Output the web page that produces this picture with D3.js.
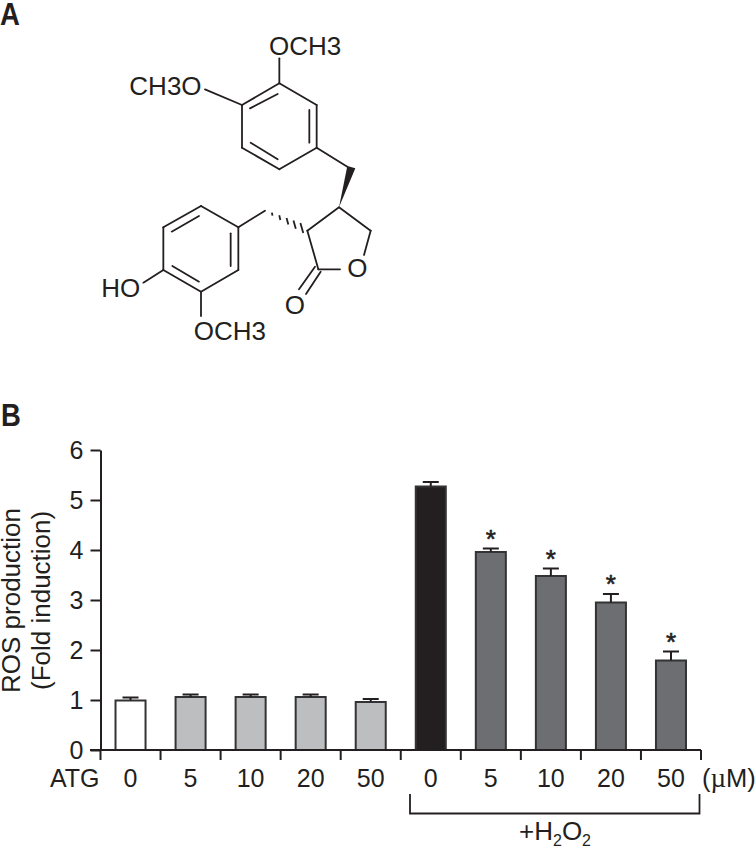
<!DOCTYPE html>
<html>
<head>
<meta charset="utf-8">
<script src="https://cdnjs.cloudflare.com/ajax/libs/d3/7.8.5/d3.min.js"></script>
<style>
  html, body { margin: 0; padding: 0; background: #fff; }
  text { font-family: "Liberation Sans", Arial, sans-serif; fill: #231f20; }
  .panel { font-weight: bold; font-size: 32px; }
</style>
</head>
<body>
<div id="chart"></div>
<script>
// Bar chart values (panel B)
const doses = ["0", "5", "10", "20", "50", "0", "5", "10", "20", "50"];
const ros = [0.99, 1.06, 1.06, 1.06, 0.96, 5.27, 3.96, 3.48, 2.95, 1.79];
const errTop = [1.05, 1.11, 1.11, 1.11, 1.02, 5.36, 4.03, 3.63, 3.12, 1.97];
const barFill = ["#ffffff", "#bcbec0", "#bcbec0", "#bcbec0", "#bcbec0", "#231f20", "#6d6e71", "#6d6e71", "#6d6e71", "#6d6e71"];
const starred = [false, false, false, false, false, false, true, true, true, true];
const yTicks = [0, 1, 2, 3, 4, 5, 6];

// Structure drawing (panel A), in zoomed-reference units, 3 units = 1px
const bonds = [
  [838, 250, 950, 315], [950, 315, 950, 443], [950, 443, 838, 508],
  [838, 508, 726, 443], [726, 443, 726, 315], [726, 315, 838, 250],
  [833, 282, 750, 325], [928, 330, 928, 428], [833, 478, 752, 428],
  [838, 250, 838, 175], [726, 315, 615, 268], [950, 443, 1042, 500],
  [1017, 622, 1112, 692], [1112, 692, 1092, 765], [1020, 808, 955, 808],
  [955, 808, 922, 692], [922, 692, 1017, 622],
  [945, 800, 897, 868], [962, 815, 918, 882],
  [795, 632, 715, 682],
  [603, 618, 715, 682], [715, 682, 715, 810], [715, 810, 603, 875],
  [603, 875, 490, 810], [490, 810, 490, 682], [490, 682, 603, 618],
  [597, 648, 515, 695], [692, 700, 692, 798], [597, 845, 517, 798],
  [490, 810, 430, 848], [603, 875, 603, 948]
];
const wedge = [[1017, 622], [1042, 498], [1066, 505]];
const hashTicks = [0.13, 0.3, 0.47, 0.65, 0.83];
const hashStart = [922, 692];
const hashEnd = [795, 632];
const atomLabels = [
  { t: "OCH3", x: 807, y: 164 }, { t: "CH3O", x: 388, y: 286 },
  { t: "HO", x: 304, y: 892 }, { t: "OCH3", x: 581, y: 1021 },
  { t: "O", x: 1042, y: 830 }, { t: "O", x: 854, y: 942 }
];

const width = 755, height = 849;
const svg = d3.select("#chart").append("svg")
  .attr("width", width)
  .attr("height", height)
  .style("display", "block");

// Panel letters, squeezed since the reference uses a condensed bold
svg.append("text").attr("class", "panel").attr("transform", "translate(0,25) scale(0.86,1)").text("A");
svg.append("text").attr("class", "panel").attr("transform", "translate(1,426) scale(0.86,1)").text("B");

// Panel A: molecule
const mx = d3.scaleLinear().domain([0, 1200]).range([0, 400]);
const my = d3.scaleLinear().domain([0, 1200]).range([0, 400]);
const mol = svg.append("g").attr("stroke", "#231f20").attr("stroke-width", 1.8).attr("stroke-linecap", "round");

mol.selectAll("line.bond").data(bonds).enter().append("line")
  .attr("class", "bond")
  .attr("x1", d => mx(d[0])).attr("y1", d => my(d[1]))
  .attr("x2", d => mx(d[2])).attr("y2", d => my(d[3]));

mol.append("path")
  .attr("d", d3.line().x(d => mx(d[0])).y(d => my(d[1]))(wedge) + "Z")
  .attr("fill", "#231f20").attr("stroke", "none");

// hashed bond, slanted strokes getting longer toward the ring
mol.selectAll("line.hash").data(hashTicks).enter().append("line")
  .attr("class", "hash")
  .attr("stroke-width", 1.8)
  .attr("stroke-linecap", "butt")
  .attr("x1", t => mx(hashStart[0] + (hashEnd[0] - hashStart[0]) * t - 5 * (1 - t)))
  .attr("y1", t => my(hashStart[1] + (hashEnd[1] - hashStart[1]) * t - 15 * (1 - t) - 2))
  .attr("x2", t => mx(hashStart[0] + (hashEnd[0] - hashStart[0]) * t + 5 * (1 - t)))
  .attr("y2", t => my(hashStart[1] + (hashEnd[1] - hashStart[1]) * t + 15 * (1 - t) + 2));

svg.selectAll("text.atom").data(atomLabels).enter().append("text")
  .attr("class", "atom")
  .attr("x", d => mx(d.x)).attr("y", d => my(d.y))
  .attr("font-size", 26)
  .text(d => d.t);

// Panel B: bars
const x = d3.scaleBand().domain(d3.range(doses.length)).range([100.5, 701]).paddingInner(0.5).paddingOuter(0.25);
const y = d3.scaleLinear().domain([0, 6]).range([750, 450]);
const ink = "#231f20";

const yAxis = svg.append("g")
  .attr("transform", "translate(100.5,0)")
  .call(d3.axisLeft(y).tickValues(yTicks).tickFormat(d3.format("d")).tickSize(10).tickSizeOuter(0).tickPadding(7));
yAxis.selectAll("path, line").attr("stroke", ink).attr("stroke-width", 2);
yAxis.selectAll("text").attr("font-size", 25).attr("font-family", "Liberation Sans").attr("fill", ink);

svg.selectAll("rect.bar").data(ros).enter().append("rect")
  .attr("class", "bar")
  .attr("x", (d, i) => x(i))
  .attr("y", d => y(d))
  .attr("width", x.bandwidth())
  .attr("height", d => y(0) - y(d))
  .attr("fill", (d, i) => barFill[i])
  .attr("stroke", "#333335")
  .attr("stroke-width", 2);

// error whiskers (upper side only)
const capHalf = 8;
const errs = svg.append("g").attr("stroke", ink).attr("stroke-width", 2);
errs.selectAll("line.stem").data(errTop).enter().append("line")
  .attr("class", "stem")
  .attr("x1", (d, i) => x(i) + x.bandwidth() / 2).attr("x2", (d, i) => x(i) + x.bandwidth() / 2)
  .attr("y1", (d, i) => y(ros[i])).attr("y2", d => y(d));
errs.selectAll("line.cap").data(errTop).enter().append("line")
  .attr("class", "cap")
  .attr("x1", (d, i) => x(i) + x.bandwidth() / 2 - capHalf).attr("x2", (d, i) => x(i) + x.bandwidth() / 2 + capHalf)
  .attr("y1", d => y(d)).attr("y2", d => y(d));

svg.selectAll("text.star").data(errTop).enter().filter((d, i) => starred[i]).append("text")
  .attr("class", "star")
  .attr("x", function (d) { return x(errTop.indexOf(d)) + x.bandwidth() / 2; })
  .attr("y", d => y(d) - 1)
  .attr("text-anchor", "middle")
  .attr("font-size", 26)
  .attr("stroke", ink)
  .attr("stroke-width", 0.6)
  .text("*");

// x axis line, ticks sit between the bars
const xEdges = d3.range(doses.length + 1).map(i => 100.5 + i * x.step());
const xAxis = svg.append("g").attr("stroke", ink).attr("stroke-width", 2);
xAxis.append("line").attr("x1", 90).attr("x2", xEdges[xEdges.length - 1]).attr("y1", y(0)).attr("y2", y(0));
xAxis.selectAll("line.tick").data(xEdges).enter().append("line")
  .attr("class", "tick")
  .attr("x1", d => d).attr("x2", d => d)
  .attr("y1", y(0)).attr("y2", y(0) + 10);

svg.selectAll("text.dose").data(doses).enter().append("text")
  .attr("class", "dose")
  .attr("x", (d, i) => x(i) + x.bandwidth() / 2)
  .attr("y", 787)
  .attr("text-anchor", "middle")
  .attr("font-size", 25)
  .text(d => d);

svg.append("text").attr("x", 50).attr("y", 787).attr("font-size", 25).text("ATG");

const unit = svg.append("text").attr("x", 702).attr("y", 787).attr("font-size", 25.5);
unit.append("tspan").text("(");
unit.append("tspan").attr("font-family", "Liberation Serif").attr("font-size", 27).text("\u00b5");
unit.append("tspan").text("M)");

// axis titles
svg.append("text").attr("transform", "translate(20,693) rotate(-90)").attr("font-size", 26).text("ROS production");
svg.append("text").attr("transform", "translate(50,690) rotate(-90)").attr("font-size", 26).text("(Fold induction)");

// +H2O2 bracket
svg.append("path")
  .attr("d", d3.line()([[410, 794], [410, 813.5], [699.5, 813.5], [699.5, 794]]))
  .attr("fill", "none").attr("stroke", ink).attr("stroke-width", 1.8);

const h2o2 = svg.append("text").attr("x", 519).attr("y", 840).attr("font-size", 26);
h2o2.append("tspan").text("+H");
h2o2.append("tspan").attr("font-size", 16).attr("dy", 6).text("2");
h2o2.append("tspan").attr("dy", -6).text("O");
h2o2.append("tspan").attr("font-size", 16).attr("dy", 6).text("2");
</script>
</body>
</html>
